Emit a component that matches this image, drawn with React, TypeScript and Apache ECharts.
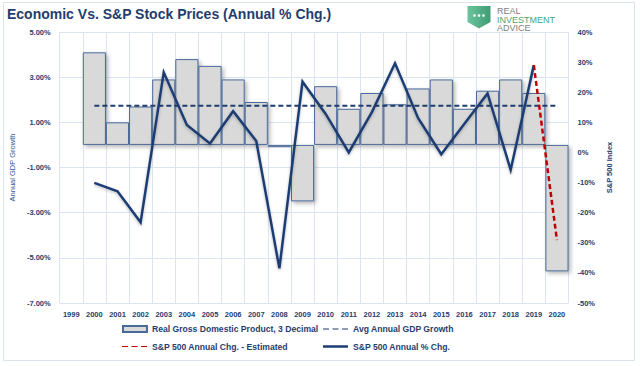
import React, { useEffect, useRef } from "react";
import * as echarts from "echarts";

const years = ["1999","2000","2001","2002","2003","2004","2005","2006","2007","2008","2009","2010","2011","2012","2013","2014","2015","2016","2017","2018","2019","2020"];
const gdpGrowth = [null, 4.1, 1.0, 1.7, 2.9, 3.8, 3.5, 2.9, 1.9, -0.1, -2.5, 2.6, 1.6, 2.3, 1.8, 2.5, 2.9, 1.6, 2.4, 2.9, 2.3, -5.6];
const avgGdpGrowth = [null, 1.73, 1.73, 1.73, 1.73, 1.73, 1.73, 1.73, 1.73, 1.73, 1.73, 1.73, 1.73, 1.73, 1.73, 1.73, 1.73, 1.73, 1.73, 1.73, 1.73, 1.73];
const spAnnual = [null, -10.1, -12.9, -23.2, 26.6, 9.1, 3.0, 13.7, 3.8, -38.5, 23.5, 12.8, 0.0, 13.4, 29.6, 11.4, -0.6, 9.5, 19.6, -5.8, 29.0, null];
const spEstimated = [null, null, null, null, null, null, null, null, null, null, null, null, null, null, null, null, null, null, null, null, 29.0, -29.1];

const NAVY = "#1f3d6e";
const FONT = "'Liberation Sans', Arial, sans-serif";
const DASH_ICON = "path://M0,0h6v1h-6z M9.5,0h6v1h-6z M19,0h6v1h-6z";

export default function App() {
  const ref = useRef<HTMLDivElement>(null);
  useEffect(() => {
    if (!ref.current) return;
    const chart = echarts.init(ref.current, null, { renderer: "svg" });
    const legendText = { color: NAVY, fontSize: 8.6, fontWeight: "bold" as const, fontFamily: FONT };
    const legendBase = { itemGap: 0, itemTextGap: 3, textStyle: legendText, padding: 0, selectedMode: false };
    chart.setOption({
      animation: false,
      textStyle: { fontFamily: FONT },
      title: {
        text: "Economic Vs. S&P Stock Prices (Annual % Chg.)",
        left: 7,
        top: 7,
        padding: 0,
        textStyle: { color: NAVY, fontSize: 14, fontWeight: "bold", fontFamily: FONT },
      },
      grid: { left: 54, right: 71.5, top: 32, bottom: 63, containLabel: false },
      legend: [
        { ...legendBase, data: [{ name: "Real Gross Domestic Product, 3 Decimal", icon: "rect" }], left: 122, top: 324.5, itemWidth: 24, itemHeight: 6 },
        { ...legendBase, data: [{ name: "Avg Annual GDP Growth", icon: DASH_ICON }], left: 323, top: 324.5, itemWidth: 25, itemHeight: 2.5 },
        { ...legendBase, data: [{ name: "S&P 500 Annual Chg. - Estimated", icon: DASH_ICON }], left: 122, top: 342, itemWidth: 25, itemHeight: 2.5 },
        { ...legendBase, data: [{ name: "S&P 500 Annual % Chg.", icon: "rect" }], left: 323, top: 342, itemWidth: 25, itemHeight: 2.5 },
      ],
      xAxis: {
        type: "category",
        data: years,
        boundaryGap: true,
        axisLine: { show: false },
        axisTick: { show: false },
        splitLine: { show: true, lineStyle: { color: "#dbe5f1", width: 1 } },
        axisLabel: { interval: 0, color: NAVY, fontSize: 7.5, fontWeight: "bold", margin: 7, fontFamily: FONT },
      },
      yAxis: [
        {
          type: "value",
          min: -7,
          max: 5,
          interval: 1,
          position: "left",
          name: "Annual GDP Growth",
          nameLocation: "middle",
          nameGap: 42,
          nameRotate: 90,
          nameTextStyle: { color: "#2f5597", fontSize: 7.5, fontFamily: FONT },
          axisLine: { show: false },
          axisTick: { show: false },
          splitLine: { show: false },
          axisLabel: {
            color: NAVY,
            fontSize: 7.5,
            fontWeight: "bold",
            margin: 9,
            fontFamily: FONT,
            formatter: (v: number) => (Math.abs(Math.round(v)) % 2 === 1 ? v.toFixed(2) + "%" : ""),
          },
        },
        {
          type: "value",
          min: -50,
          max: 40,
          interval: 10,
          position: "right",
          name: "S&P 500 Index",
          nameLocation: "middle",
          nameGap: 36,
          nameRotate: 90,
          nameTextStyle: { color: NAVY, fontSize: 7.5, fontWeight: "bold", fontFamily: FONT },
          axisLine: { show: false },
          axisTick: { show: false },
          splitLine: { show: false },
          axisLabel: { color: NAVY, fontSize: 7.5, fontWeight: "bold", margin: 9, fontFamily: FONT, formatter: (v: number) => v + "%" },
        },
        {
          type: "value",
          min: 0,
          max: 12,
          interval: 2,
          position: "left",
          axisLine: { show: false },
          axisTick: { show: false },
          axisLabel: { show: false },
          splitLine: { show: true, lineStyle: { color: "#dbe5f1", width: 1 } },
        },
      ],
      series: [
        {
          name: "Real Gross Domestic Product, 3 Decimal",
          type: "bar",
          yAxisIndex: 0,
          data: gdpGrowth,
          barCategoryGap: "0%",
          itemStyle: {
            color: "#d9d9d9",
            borderColor: "#4a6a9a",
            borderWidth: 1,
            shadowColor: "rgba(0,0,0,0.3)",
            shadowBlur: 4,
            shadowOffsetX: 2,
            shadowOffsetY: 2,
          },
        },
        {
          name: "Avg Annual GDP Growth",
          type: "line",
          yAxisIndex: 0,
          data: avgGdpGrowth,
          symbol: "none",
          lineStyle: { color: NAVY, width: 2, type: [5, 3] },
          itemStyle: { color: NAVY },
        },
        {
          name: "S&P 500 Annual % Chg.",
          type: "line",
          yAxisIndex: 1,
          data: spAnnual,
          symbol: "none",
          lineStyle: { color: "#1f3d73", width: 2.5, join: "miter", shadowColor: "rgba(0,0,0,0.25)", shadowBlur: 3, shadowOffsetY: 1.5 },
          itemStyle: { color: "#1f3d73" },
        },
        {
          name: "S&P 500 Annual Chg. - Estimated",
          type: "line",
          yAxisIndex: 1,
          data: spEstimated,
          symbol: "none",
          lineStyle: { color: "#c00000", width: 2.5, type: [5, 3] },
          itemStyle: { color: "#c00000" },
        },
      ],
      graphic: [
        { type: "rect", z: -10, shape: { x: 3.5, y: 2.5, width: 631, height: 358 }, style: { fill: "none", stroke: "#dde3ea", lineWidth: 1 } },
        {
          type: "polygon",
          shape: { points: [[467.5, 6], [490.5, 6], [490.5, 22], [479, 28.5], [467.5, 22]] },
          style: {
            fill: new echarts.graphic.LinearGradient(0, 0, 1, 0, [
              { offset: 0, color: "#6cc49c" },
              { offset: 1, color: "#3f9c75" },
            ]),
          },
        },
        { type: "circle", shape: { cx: 474.5, cy: 15.5, r: 1.3 }, style: { fill: "#ffffff" } },
        { type: "circle", shape: { cx: 479, cy: 15.5, r: 1.3 }, style: { fill: "#ffffff" } },
        { type: "circle", shape: { cx: 483.5, cy: 15.5, r: 1.3 }, style: { fill: "#ffffff" } },
        { type: "text", left: 497, top: 6.5, style: { text: "REAL", fill: "#808080", font: "9px 'Liberation Sans', sans-serif" } },
        { type: "text", left: 497, top: 15, style: { text: "INVESTMENT", fill: "#3fa87a", font: "9px 'Liberation Sans', sans-serif" } },
        { type: "text", left: 497, top: 23.5, style: { text: "ADVICE", fill: "#808080", font: "9px 'Liberation Sans', sans-serif" } },
      ],
    });
    return () => chart.dispose();
  }, []);
  return <div ref={ref} style={{ position: "fixed", left: 0, top: 0, width: 640, height: 366, background: "#fff" }} />;
}
